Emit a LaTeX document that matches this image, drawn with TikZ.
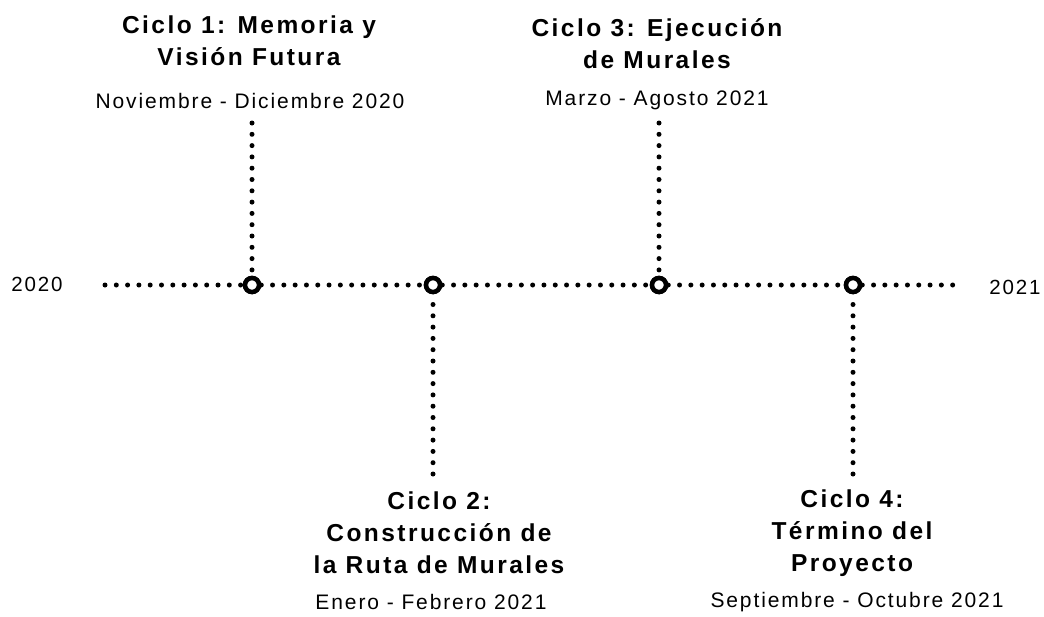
\documentclass[tikz,border=0pt]{standalone}
\usepackage{fontspec}
\setmainfont{Liberation Sans}
\newfontfamily\titlefont[LetterSpace=10]{Liberation Sans}
\newfontfamily\subfont[LetterSpace=9]{Liberation Sans}
\begin{document}
\begin{tikzpicture}[x=1pt,y=-1pt,
  dotline/.style={line width=5pt, line cap=round, dash pattern=on 0pt off 11.3pt},
  ring/.style={circle, draw, line width=4.5pt, fill=white, minimum size=14pt, inner sep=0pt},
  ttl/.style={align=center, font=\titlefont\bfseries\fontsize{24.5}{32}\selectfont, inner sep=0pt},
  sub/.style={font=\subfont\fontsize{21}{24}\selectfont, inner sep=0pt},
  yr/.style={font=\subfont\fontsize{20.5}{24}\selectfont, inner sep=0pt}
]
\useasboundingbox (0,0) rectangle (1044,616);
\coordinate (s) at (105,285);
\coordinate (e) at (953,285);
\node[ring] (c1) at (252,285) {};
\node[ring] (c2) at (433,285) {};
\node[ring] (c3) at (659,285) {};
\node[ring] (c4) at (853,285) {};
\coordinate (t1) at (252,123);
\coordinate (t3) at (659,123);
\coordinate (b2) at (433,474);
\coordinate (b4) at (853,474);
\draw[dotline] (s) -- (c1.west);
\draw[dotline] (c1.east) -- (c2.west);
\draw[dotline] (c2.east) -- (c3.west);
\draw[dotline] (c3.east) -- (c4.west);
\draw[dotline] (c4.east) -- (e);
\draw[dotline] (t1) -- (c1.north);
\draw[dotline] (t3) -- (c3.north);
\draw[dotline] (b2) -- (c2.south);
\draw[dotline] (b4) -- (c4.south);
\node[ring] at (c1) {};
\node[ring] at (c2) {};
\node[ring] at (c3) {};
\node[ring] at (c4) {};
\node[yr] (y0) at (37,284) {2020};
\node[yr] (y1) at (1015,287) {2021};
\node[ttl] (T1) at (249,41) {Ciclo 1: Memoria y\\Visión Futura};
\node[sub] (S1) at (250,101) {Noviembre - Diciembre 2020};
\node[ttl] (T3) at (657,44) {Ciclo 3: Ejecución\\de Murales};
\node[sub] (S3) at (657,100) {Marzo - Agosto 2021};
\node[ttl] (T2) at (439,533) {Ciclo 2:\\Construcción de\\la Ruta de Murales};
\node[sub] (S2) at (431,602) {Enero - Febrero 2021};
\node[ttl] (T4) at (852,533) {Ciclo 4:\\Término del\\Proyecto};
\node[sub] (S4) at (857,602) {Septiembre - Octubre 2021};
\end{tikzpicture}
\end{document}
